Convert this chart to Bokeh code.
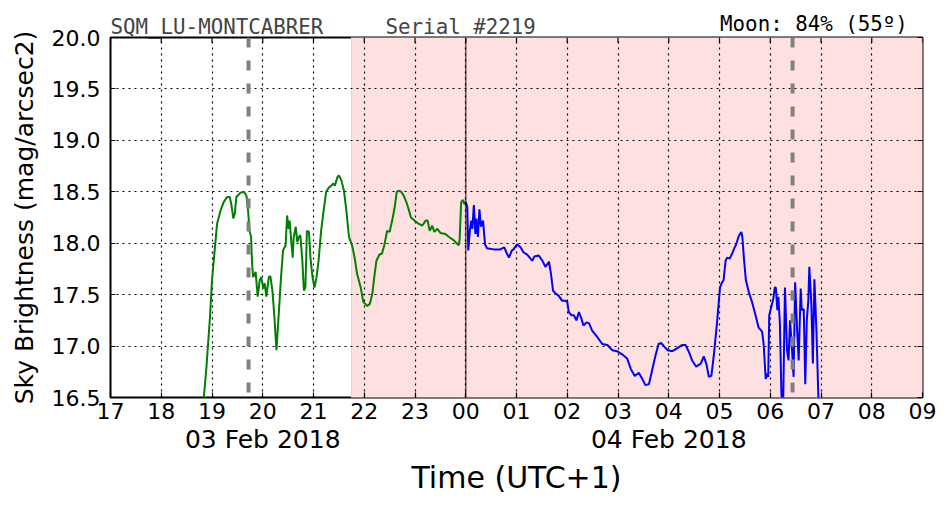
from bokeh.plotting import figure
from bokeh.models import Range1d, LinearAxis, FixedTicker, Span
from bokeh.embed import file_html
from bokeh.resources import INLINE

# ---- data (hours after 00:00 of 03 Feb 2018; 24 = midnight) ----
hour_ticks = list(range(17, 34))
hour_labels = ["17", "18", "19", "20", "21", "22", "23", "00", "01", "02",
               "03", "04", "05", "06", "07", "08", "09"]
date_ticks = [20, 28]
date_labels = ["03 Feb 2018", "04 Feb 2018"]
y_ticks = [16.5, 17.0, 17.5, 18.0, 18.5, 19.0, 19.5, 20.0]

green_t = [18.83, 18.89, 18.96, 19.00, 19.04, 19.10, 19.17, 19.23, 19.30, 19.35,
           19.38, 19.42, 19.45, 19.48, 19.56, 19.63, 19.68, 19.71, 19.74, 19.77,
           19.79, 19.81, 19.84, 19.86, 19.90, 19.94, 19.97, 20.01, 20.04, 20.07,
           20.12, 20.15, 20.19, 20.23, 20.27, 20.32, 20.36, 20.40, 20.45, 20.48,
           20.51, 20.53, 20.56, 20.59, 20.61, 20.65, 20.68, 20.71, 20.74, 20.78,
           20.81, 20.84, 20.87, 20.91, 20.94, 20.98, 21.02, 21.06, 21.10, 21.15,
           21.20, 21.25, 21.30, 21.35, 21.39, 21.42, 21.47, 21.50, 21.55, 21.60,
           21.64, 21.70, 21.76, 21.81, 21.86, 21.93, 21.98, 22.06, 22.11, 22.16,
           22.19, 22.24, 22.30, 22.35, 22.40, 22.45, 22.50, 22.55, 22.60, 22.64,
           22.68, 22.73, 22.78, 22.83, 22.88, 22.92, 22.99, 23.07, 23.14, 23.21,
           23.25, 23.29, 23.34, 23.38, 23.44, 23.50, 23.60, 23.67, 23.76, 23.86,
           23.88, 23.91, 23.95, 23.97, 24.00]
green_v = [16.45, 16.79, 17.28, 17.64, 17.86, 18.19, 18.32, 18.40, 18.45, 18.45,
           18.38, 18.24, 18.29, 18.45, 18.49, 18.50, 18.46, 18.32, 18.12, 18.06,
           17.80, 17.67, 17.70, 17.72, 17.48, 17.64, 17.67, 17.56, 17.61, 17.48,
           17.67, 17.68, 17.54, 17.28, 16.96, 17.35, 17.67, 17.93, 17.98, 18.27,
           18.14, 18.22, 18.03, 17.86, 18.06, 18.16, 18.01, 18.06, 18.08, 17.83,
           17.54, 17.57, 18.12, 18.11, 17.86, 17.67, 17.57, 17.67, 17.83, 18.12,
           18.32, 18.50, 18.54, 18.56, 18.58, 18.56, 18.64, 18.66, 18.61, 18.51,
           18.35, 18.06, 17.98, 17.86, 17.70, 17.57, 17.43, 17.39, 17.41, 17.51,
           17.64, 17.83, 17.89, 17.90, 17.99, 18.12, 18.11, 18.22, 18.35, 18.50,
           18.51, 18.50, 18.46, 18.40, 18.32, 18.25, 18.22, 18.19, 18.17, 18.22,
           18.22, 18.12, 18.17, 18.11, 18.14, 18.10, 18.09, 18.06, 18.03, 17.98,
           18.04, 18.40, 18.42, 18.38, 18.40]

blue_t = [24.00, 24.03, 24.05, 24.08, 24.11, 24.13, 24.16, 24.19, 24.21, 24.24,
          24.27, 24.30, 24.34, 24.38, 24.42, 24.55, 24.68, 24.76, 24.81, 24.85,
          24.91, 24.94, 25.01, 25.08, 25.14, 25.21, 25.31, 25.35, 25.44, 25.51,
          25.57, 25.64, 25.68, 25.72, 25.77, 25.83, 25.90, 25.97, 26.00, 26.03,
          26.08, 26.13, 26.18, 26.23, 26.27, 26.32, 26.38, 26.43, 26.49, 26.59,
          26.69, 26.79, 26.89, 26.98, 27.08, 27.18, 27.25, 27.33, 27.41, 27.48,
          27.54, 27.61, 27.67, 27.74, 27.80, 27.85, 27.92, 27.98, 28.07, 28.17,
          28.26, 28.33, 28.40, 28.46, 28.54, 28.63, 28.69, 28.74, 28.79, 28.84,
          28.89, 28.95, 29.01, 29.05, 29.08, 29.12, 29.15, 29.20, 29.25, 29.29,
          29.33, 29.38, 29.43, 29.45, 29.48, 29.52, 29.58, 29.64, 29.71, 29.77,
          29.84, 29.87, 29.91, 29.94, 29.96, 29.98, 30.02, 30.06, 30.09, 30.11,
          30.14, 30.16, 30.19, 30.22, 30.25, 30.29, 30.33, 30.36, 30.39, 30.43,
          30.46, 30.49, 30.53, 30.56, 30.60, 30.62, 30.66, 30.69, 30.72, 30.75,
          30.77, 30.81, 30.84, 30.87, 30.91, 30.96]
blue_v = [18.40, 18.35, 17.93, 18.12, 18.22, 18.14, 18.37, 18.09, 18.24, 18.06,
          18.33, 18.16, 18.22, 17.99, 17.95, 17.94, 17.94, 17.96, 17.90, 17.86,
          17.93, 17.94, 17.99, 17.96, 17.91, 17.89, 17.83, 17.87, 17.88, 17.83,
          17.77, 17.82, 17.70, 17.54, 17.51, 17.49, 17.44, 17.44, 17.43, 17.33,
          17.30, 17.30, 17.25, 17.33, 17.28, 17.20, 17.23, 17.22, 17.15, 17.09,
          17.02, 17.01, 16.96, 16.95, 16.92, 16.88, 16.78, 16.71, 16.74, 16.68,
          16.62, 16.63, 16.76, 16.91, 17.02, 17.03, 16.99, 16.96, 16.95, 16.98,
          17.01, 17.01, 16.94, 16.86, 16.80, 16.83, 16.90, 16.83, 16.70, 16.71,
          16.92, 17.22, 17.57, 17.62, 17.64, 17.83, 17.86, 17.85, 17.90, 17.95,
          17.99, 18.07, 18.11, 18.06, 17.86, 17.64, 17.52, 17.43, 17.30, 17.18,
          17.14, 17.02, 16.68, 16.73, 16.70, 17.30, 17.38, 17.46, 17.57, 17.57,
          17.35, 17.48, 17.22, 16.54, 16.30, 17.57, 16.96, 16.86, 17.25, 16.96,
          16.70, 17.62, 17.15, 16.86, 17.56, 17.35, 17.36, 16.63, 17.25, 17.44,
          17.77, 17.41, 16.83, 17.65, 17.15, 16.30]

twilight_start = 21.75
twilight_end = 33.5
moon_events = [19.72, 30.44]
midnight = 24.0

station = "SQM_LU-MONTCABRER"
serial = "Serial #2219"
moon_text = "Moon: 84% (55º)"

FONT = "DejaVu Sans"
MONO = "DejaVu Sans Mono"
Y_MIN, Y_MAX = 16.5, 20.0
TOP_TICK = 0.05  # inward top tick length (y data units)

p = figure(width=952, height=512, output_backend="svg", toolbar_location=None,
           x_range=Range1d(17, 33), y_range=Range1d(Y_MIN, Y_MAX),
           min_border_left=110, min_border_right=30, min_border_top=37,
           min_border_bottom=115, x_axis_location=None, y_axis_location=None)
p.outline_line_color = "black"
p.outline_line_width = 2
p.background_fill_color = "white"
p.border_fill_color = "white"

pink = p.quad(left=[twilight_start], right=[twilight_end], bottom=[16.0], top=[21.0],
              fill_color="#ffe0e0", line_color="#ffc8c8", line_width=1.2)
pink.level = "image"


def style_axis(ax, show_labels=True, size="22px"):
    ax.axis_line_color = None
    ax.major_tick_in = 5
    ax.major_tick_out = 0
    ax.major_tick_line_width = 1.2
    ax.minor_tick_line_color = None
    ax.major_label_text_font = FONT
    if show_labels:
        ax.major_label_text_font_size = size
        ax.major_label_text_color = "black"
    else:
        ax.major_label_text_font_size = "1px"
        ax.major_label_text_color = None


def header_axis(positions, texts, color, standoff):
    ax = LinearAxis(ticker=FixedTicker(ticks=positions),
                    major_label_overrides={t: l for t, l in zip(positions, texts)})
    ax.axis_line_color = None
    ax.major_tick_in = 0
    ax.major_tick_out = 0
    ax.major_tick_line_color = None
    ax.minor_tick_line_color = None
    ax.major_label_text_font = MONO
    ax.major_label_text_font_size = "20.8px"
    ax.major_label_text_color = color
    ax.major_label_standoff = standoff
    return ax


xb = LinearAxis(ticker=FixedTicker(ticks=hour_ticks),
                major_label_overrides={t: l for t, l in zip(hour_ticks, hour_labels)})
style_axis(xb)
xb.major_label_standoff = 5
p.add_layout(xb, "below")

xd = LinearAxis(ticker=FixedTicker(ticks=date_ticks),
                major_label_overrides={t: l for t, l in zip(date_ticks, date_labels)})
style_axis(xd, size="25px")
xd.major_tick_in = 0
xd.major_tick_line_color = None
xd.major_label_standoff = 3
xd.axis_label = "Time (UTC+1)"
xd.axis_label_text_font = FONT
xd.axis_label_text_font_style = "normal"
xd.axis_label_text_font_size = "30px"
xd.axis_label_text_color = "black"
xd.axis_label_standoff = 3
p.add_layout(xd, "below")

# header texts carried by two top axes sharing one row
p.add_layout(header_axis([19.097, 23.90], [station, serial], "#444444", -1), "above")
p.add_layout(header_axis([30.862], [moon_text], "black", -24), "above")

yl = LinearAxis(ticker=FixedTicker(ticks=y_ticks),
                major_label_overrides={t: f"{t:.1f}" for t in y_ticks})
style_axis(yl)
yl.major_label_standoff = 10
yl.axis_label = "Sky Brightness (mag/arcsec2)"
yl.axis_label_text_font = FONT
yl.axis_label_text_font_style = "normal"
yl.axis_label_text_font_size = "25px"
yl.axis_label_text_color = "black"
yl.axis_label_standoff = 10
p.add_layout(yl, "left")

yr = LinearAxis(ticker=FixedTicker(ticks=y_ticks))
style_axis(yr, show_labels=False)
yr.major_label_standoff = 0
p.add_layout(yr, "right")

# inward tick marks along the top edge
p.segment(x0=hour_ticks, y0=[Y_MAX] * len(hour_ticks),
          x1=hour_ticks, y1=[Y_MAX - TOP_TICK] * len(hour_ticks),
          line_color="black", line_width=1.2)

p.xgrid.ticker = FixedTicker(ticks=hour_ticks)
p.ygrid.ticker = FixedTicker(ticks=y_ticks)
for g in (p.xgrid, p.ygrid):
    g.grid_line_color = "black"
    g.grid_line_dash = "2 4"
    g.grid_line_width = 1.2
    g.level = "underlay"

p.line(green_t, green_v, line_color="#008000", line_width=2)
p.line(blue_t, blue_v, line_color="#0000ff", line_width=2)

p.add_layout(Span(location=midnight, dimension="height", line_color="#000000",
                  line_alpha=0.6, line_width=1.6))
for m in moon_events:
    p.add_layout(Span(location=m, dimension="height", line_color="#808080",
                      line_width=4, line_dash="10 13"))

open("out.html", "w").write(file_html(p, INLINE))
